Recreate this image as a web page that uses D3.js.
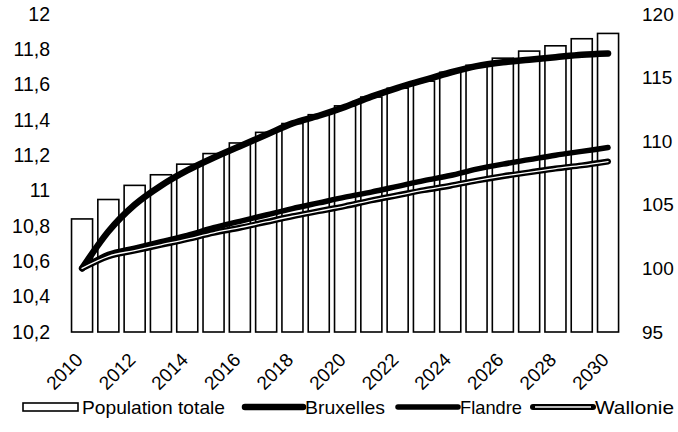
<!DOCTYPE html>
<html>
<head>
<meta charset="utf-8">
<script src="https://cdn.jsdelivr.net/npm/d3@7"></script>
<style>
  html, body { margin: 0; padding: 0; background: #fff; }
  svg { display: block; }
  text { font-family: "Liberation Sans", Arial, Helvetica, sans-serif; fill: #000; }
</style>
</head>
<body>
<svg id="chart" width="678" height="432"></svg>
<script>
// Population de la Belgique (millions, axe gauche) et indices régionaux (2010 = 100, axe droit)
const years = [2010, 2011, 2012, 2013, 2014, 2015, 2016, 2017, 2018, 2019, 2020,
               2021, 2022, 2023, 2024, 2025, 2026, 2027, 2028, 2029, 2030];

const populationTotale = [10.84, 10.95, 11.03, 11.09, 11.15, 11.21, 11.27, 11.33, 11.38, 11.43, 11.48,
                          11.53, 11.58, 11.62, 11.67, 11.71, 11.75, 11.79, 11.82, 11.86, 11.89];

const bruxelles = [100, 102.9, 105.0, 106.5, 107.7, 108.7, 109.6, 110.5, 111.4, 112.0, 112.7,
                   113.5, 114.2, 114.8, 115.4, 115.9, 116.2, 116.4, 116.6, 116.8, 116.9];

const flandre = [100, 101.1, 101.6, 102.1, 102.6, 103.2, 103.7, 104.2, 104.7, 105.15, 105.6,
                 106.0, 106.45, 106.9, 107.3, 107.8, 108.2, 108.55, 108.9, 109.2, 109.5];

const wallonie = [100, 100.95, 101.4, 101.85, 102.3, 102.8, 103.2, 103.65, 104.1, 104.5, 104.9,
                  105.35, 105.75, 106.15, 106.5, 106.9, 107.25, 107.55, 107.85, 108.1, 108.4];

const leftTicks = [10.2, 10.4, 10.6, 10.8, 11, 11.2, 11.4, 11.6, 11.8, 12];
const rightTicks = [95, 100, 105, 110, 115, 120];
const yearTicks = [2010, 2012, 2014, 2016, 2018, 2020, 2022, 2024, 2026, 2028, 2030];

const legendLabels = ["Population totale", "Bruxelles", "Flandre", "Wallonie"];

const svg = d3.select("#chart");

const x = d3.scaleBand()
  .domain(years)
  .range([68.9, 621.2])
  .paddingInner(0.2)
  .paddingOuter(0.1);

const yLeft = d3.scaleLinear().domain([10.2, 12]).range([332, 14]);
const yRight = d3.scaleLinear().domain([95, 120]).range([332, 14]);

const commaFmt = d => String(+d.toFixed(1)).replace(".", ",");

// Left axis (millions)
const gLeft = svg.append("g")
  .attr("transform", "translate(52,0)")
  .call(d3.axisLeft(yLeft).tickValues(leftTicks).tickFormat(commaFmt).tickSize(0).tickPadding(2));
gLeft.select(".domain").remove();
gLeft.selectAll("text")
  .style("font-size", "19.5px")
  .style("font-family", "'Liberation Sans', Arial, sans-serif");

// Right axis (index)
const gRight = svg.append("g")
  .attr("transform", "translate(640,0)")
  .call(d3.axisRight(yRight).tickValues(rightTicks).tickSize(0).tickPadding(2));
gRight.select(".domain").remove();
gRight.selectAll("text")
  .style("font-size", "19px")
  .style("font-family", "'Liberation Sans', Arial, sans-serif");

// Bars: total population
svg.append("g")
  .selectAll("rect")
  .data(years.map((yr, i) => ({ yr, v: populationTotale[i] })))
  .join("rect")
  .attr("x", d => x(d.yr))
  .attr("y", d => yLeft(d.v))
  .attr("width", x.bandwidth())
  .attr("height", d => yLeft(10.2) - yLeft(d.v))
  .attr("fill", "#fff")
  .attr("stroke", "#000")
  .attr("stroke-width", 1.6);

// Regional index lines
const line = d3.line()
  .x(d => x(d.yr) + x.bandwidth() / 2)
  .y(d => yRight(d.v))
  .curve(d3.curveMonotoneX);

const toPts = arr => years.map((yr, i) => ({ yr, v: arr[i] }));

const gLines = svg.append("g").attr("fill", "none").attr("stroke-linecap", "round").attr("stroke-linejoin", "round");

gLines.append("path").attr("d", line(toPts(bruxelles)))
  .attr("stroke", "#000").attr("stroke-width", 6.5);

gLines.append("path").attr("d", line(toPts(flandre)))
  .attr("stroke", "#000").attr("stroke-width", 5.5);

gLines.append("path").attr("d", line(toPts(wallonie)))
  .attr("stroke", "#000").attr("stroke-width", 6);
gLines.append("path").attr("d", line(toPts(wallonie)))
  .attr("stroke", "#fff").attr("stroke-width", 1.3);

// Year labels, rotated
svg.append("g")
  .selectAll("text")
  .data(yearTicks)
  .join("text")
  .attr("transform", d => `translate(${x(d) + x.bandwidth() / 2 + 2},361) rotate(-45)`)
  .attr("text-anchor", "end")
  .style("font-size", "19px")
  .text(d => d);

// Legend
const legY = 407;
const leg = svg.append("g");

const sw = [
  { x0: 23, x1: 78, tx: 82, tw: 143 },
  { x0: 245, x1: 303, tx: 305, tw: 80 },
  { x0: 398, x1: 458, tx: 460, tw: 62 },
  { x0: 533, x1: 593, tx: 595, tw: 79 }
];

leg.append("rect")
  .attr("x", sw[0].x0).attr("y", legY - 4)
  .attr("width", sw[0].x1 - sw[0].x0).attr("height", 8)
  .attr("fill", "#fff").attr("stroke", "#000").attr("stroke-width", 1.6);

leg.append("line")
  .attr("x1", sw[1].x0).attr("x2", sw[1].x1).attr("y1", legY).attr("y2", legY)
  .attr("stroke", "#000").attr("stroke-width", 6.5).attr("stroke-linecap", "round");

leg.append("line")
  .attr("x1", sw[2].x0).attr("x2", sw[2].x1).attr("y1", legY).attr("y2", legY)
  .attr("stroke", "#000").attr("stroke-width", 5.5).attr("stroke-linecap", "round");

leg.append("line")
  .attr("x1", sw[3].x0).attr("x2", sw[3].x1).attr("y1", legY).attr("y2", legY)
  .attr("stroke", "#000").attr("stroke-width", 6).attr("stroke-linecap", "round");
leg.append("line")
  .attr("x1", sw[3].x0 + 2).attr("x2", sw[3].x1 - 2).attr("y1", legY).attr("y2", legY)
  .attr("stroke", "#bbb").attr("stroke-width", 2);

leg.selectAll("text.lbl")
  .data(legendLabels)
  .join("text")
  .attr("class", "lbl")
  .attr("x", (d, i) => sw[i].tx)
  .attr("y", legY + 7)
  .attr("textLength", (d, i) => sw[i].tw)
  .attr("lengthAdjust", "spacingAndGlyphs")
  .style("font-size", "19px")
  .text(d => d);
</script>
</body>
</html>
